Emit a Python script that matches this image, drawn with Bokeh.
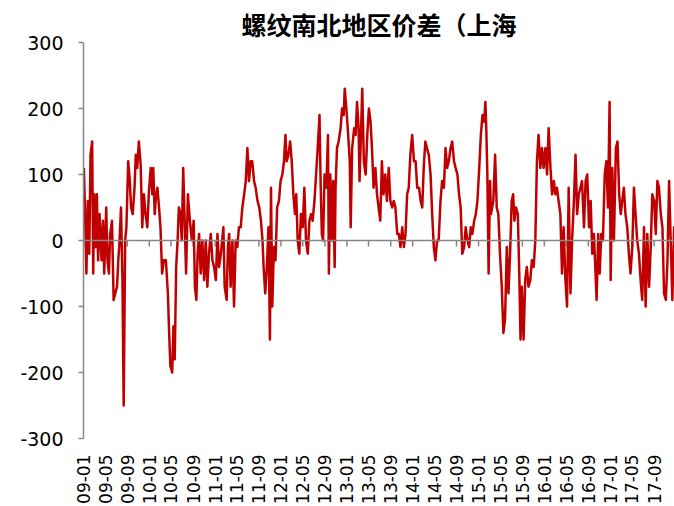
import numpy as np
import pandas as pd
from bokeh.plotting import figure
from bokeh.models import FixedTicker, DatetimeTickFormatter, Span, Range1d
from bokeh.embed import file_html
from bokeh.resources import INLINE

title_text = "螺纹南北地区价差（上海"

dates = [
    "2009-01-03", "2009-01-10", "2009-01-17", "2009-01-25", "2009-02-02", "2009-02-09", "2009-02-18", "2009-02-24",
    "2009-03-01", "2009-03-08", "2009-03-16", "2009-03-23", "2009-03-31", "2009-04-11", "2009-04-19", "2009-04-26",
    "2009-05-07", "2009-05-14", "2009-05-22", "2009-05-29", "2009-06-08", "2009-06-17", "2009-06-26", "2009-07-06",
    "2009-07-13", "2009-07-20", "2009-07-28", "2009-08-05", "2009-08-12", "2009-08-20", "2009-08-27", "2009-09-06",
    "2009-09-15", "2009-09-22", "2009-10-01", "2009-10-11", "2009-10-18", "2009-10-26", "2009-11-04", "2009-11-14",
    "2009-11-23", "2009-12-02", "2009-12-11", "2009-12-21", "2009-12-30", "2010-01-09", "2010-01-18", "2010-01-23",
    "2010-01-31", "2010-02-08", "2010-02-15", "2010-02-24", "2010-03-04", "2010-03-13", "2010-03-22", "2010-04-03",
    "2010-04-14", "2010-04-21", "2010-04-28", "2010-05-08", "2010-05-15", "2010-05-22", "2010-05-30", "2010-06-07",
    "2010-06-14", "2010-06-23", "2010-06-30", "2010-07-08", "2010-07-15", "2010-07-24", "2010-08-03", "2010-08-14",
    "2010-08-25", "2010-09-04", "2010-09-11", "2010-09-19", "2010-09-26", "2010-10-04", "2010-10-13", "2010-10-22",
    "2010-11-01", "2010-11-10", "2010-11-19", "2010-11-28", "2010-12-08", "2010-12-17", "2010-12-26", "2011-01-05",
    "2011-01-14", "2011-01-23", "2011-02-02", "2011-02-16", "2011-02-23", "2011-03-06", "2011-03-13", "2011-03-20",
    "2011-03-28", "2011-04-07", "2011-04-16", "2011-04-25", "2011-05-04", "2011-05-13", "2011-05-23", "2011-06-01",
    "2011-06-11", "2011-06-20", "2011-06-29", "2011-07-08", "2011-07-17", "2011-07-26", "2011-08-05", "2011-08-14",
    "2011-08-24", "2011-09-03", "2011-09-12", "2011-09-21", "2011-09-27", "2011-10-06", "2011-10-15", "2011-10-24",
    "2011-11-01", "2011-11-07", "2011-11-14", "2011-11-23", "2011-12-02", "2011-12-11", "2011-12-21", "2011-12-30",
    "2012-01-09", "2012-01-18", "2012-01-26", "2012-02-02", "2012-02-12", "2012-02-21", "2012-03-01", "2012-03-10",
    "2012-03-19", "2012-03-26", "2012-04-03", "2012-04-12", "2012-04-21", "2012-05-01", "2012-05-10", "2012-05-19",
    "2012-05-29", "2012-06-07", "2012-06-16", "2012-06-25", "2012-07-05", "2012-07-14", "2012-07-23", "2012-08-02",
    "2012-08-08", "2012-08-15", "2012-08-22", "2012-08-30", "2012-09-09", "2012-09-18", "2012-09-23", "2012-10-01",
    "2012-10-10", "2012-10-17", "2012-10-25", "2012-10-30", "2012-11-07", "2012-11-16", "2012-11-27", "2012-12-05",
    "2012-12-14", "2012-12-20", "2012-12-29", "2013-01-08", "2013-01-17", "2013-01-22", "2013-01-30", "2013-02-10",
    "2013-02-19", "2013-02-26", "2013-03-07", "2013-03-12", "2013-03-21", "2013-03-27", "2013-04-05", "2013-04-15",
    "2013-04-24", "2013-05-03", "2013-05-12", "2013-05-20", "2013-05-29", "2013-06-08", "2013-06-17", "2013-06-26",
    "2013-07-05", "2013-07-14", "2013-07-23", "2013-08-02", "2013-08-11", "2013-08-21", "2013-08-30", "2013-09-09",
    "2013-09-18", "2013-09-27", "2013-10-07", "2013-10-16", "2013-10-25", "2013-11-04", "2013-11-13", "2013-11-22",
    "2013-12-01", "2013-12-10", "2013-12-19", "2013-12-29", "2014-01-08", "2014-01-17", "2014-01-26", "2014-02-05",
    "2014-02-14", "2014-02-23", "2014-03-03", "2014-03-12", "2014-03-21", "2014-03-31", "2014-04-10", "2014-04-19",
    "2014-04-28", "2014-05-07", "2014-05-16", "2014-05-25", "2014-06-04", "2014-06-13", "2014-06-23", "2014-07-02",
    "2014-07-11", "2014-07-20", "2014-07-30", "2014-08-08", "2014-08-18", "2014-08-27", "2014-09-06", "2014-09-15",
    "2014-09-24", "2014-10-03", "2014-10-13", "2014-10-22", "2014-11-01", "2014-11-10", "2014-11-19", "2014-11-28",
    "2014-12-08", "2014-12-17", "2014-12-26", "2015-01-05", "2015-01-14", "2015-01-23", "2015-02-02", "2015-02-08",
    "2015-02-13", "2015-02-19", "2015-02-26", "2015-03-06", "2015-03-11", "2015-03-24", "2015-04-03", "2015-04-12",
    "2015-04-21", "2015-04-30", "2015-05-10", "2015-05-19", "2015-05-28", "2015-06-07", "2015-06-16", "2015-06-25",
    "2015-07-04", "2015-07-12", "2015-07-19", "2015-07-28", "2015-08-07", "2015-08-15", "2015-08-22", "2015-08-29",
    "2015-09-08", "2015-09-17", "2015-09-26", "2015-10-05", "2015-10-15", "2015-10-24", "2015-11-03", "2015-11-12",
    "2015-11-21", "2015-11-30", "2015-12-10", "2015-12-19", "2015-12-28", "2016-01-07", "2016-01-16", "2016-01-25",
    "2016-02-04", "2016-02-13", "2016-02-23", "2016-03-02", "2016-03-11", "2016-03-20", "2016-03-30", "2016-04-08",
    "2016-04-17", "2016-04-27", "2016-05-06", "2016-05-15", "2016-05-25", "2016-06-03", "2016-06-13", "2016-06-22",
    "2016-07-01", "2016-07-10", "2016-07-19", "2016-07-28", "2016-08-08", "2016-08-17", "2016-08-26", "2016-09-05",
    "2016-09-14", "2016-09-23", "2016-10-02", "2016-10-11", "2016-10-17", "2016-10-26", "2016-11-03", "2016-11-12",
    "2016-11-21", "2016-12-01", "2016-12-10", "2016-12-19", "2016-12-28", "2017-01-03", "2017-01-12", "2017-01-21",
    "2017-02-01", "2017-02-10", "2017-02-19", "2017-02-28", "2017-03-08", "2017-03-17", "2017-03-26", "2017-04-05",
    "2017-04-14", "2017-04-23", "2017-05-03", "2017-05-12", "2017-05-21", "2017-05-30", "2017-06-09", "2017-06-18",
    "2017-06-27", "2017-07-07", "2017-07-16", "2017-07-25", "2017-08-04", "2017-08-13", "2017-08-22", "2017-09-01",
    "2017-09-10", "2017-09-19", "2017-09-28", "2017-10-08", "2017-10-17", "2017-10-26", "2017-11-05", "2017-11-14",
    "2017-11-23", "2017-12-02", "2017-12-11", "2017-12-21", "2017-12-30",
]

spread = [
    110, 40, -50, 60, -20, 130, 150, -50,
    70, -10, 70, -30, 40, -30, 30, -50,
    50, -30, -50, 10, 30, -90, -80, -70,
    -30, 0, 50, -60, -250, 0, 20, 120,
    90, 50, 40, 80, 130, 110, 150, 115,
    20, 70, 40, 20, 75, 110, 70, 110,
    40, 70, 80, 50, 20, -50, -30, -30,
    -80, -140, -190, -200, -130, -180, -40, 0,
    50, 40, 0, 110, 40, -50, 70, 30,
    0, 30, -70, -90, -20, 10, -50, 0,
    -60, 0, -70, -20, 10, -30, -40, -60,
    10, -40, -20, 20, -70, -90, -10, 10,
    -70, 0, -100, 0, -10, 20, 20, 50,
    70, 90, 140, 90, 120, 120, 90, 80,
    60, 50, 30, 0, -40, -80, -40, 20,
    -150, 80, -100, -10, -30, 50, 60, 90,
    100, 120, 160, 120, 130, 150, 120, 70,
    40, 70, 0, -20, 40, 20, 80, 0,
    -20, 30, 40, 30, 60, 100, 140, 190,
    90, 10, 0, 100, 80, 160, -50, 100,
    0, 90, -40, 80, 140, 150, 170, 200,
    190, 230, 200, 160, 120, 20, 140, 170,
    160, 210, 170, 90, 170, 230, 120, 100,
    160, 200, 180, 140, 80, 110, 70, 50,
    30, 120, 70, 100, 60, 110, 60, 50,
    60, 50, 10, 10, -10, 20, -10, 10,
    70, 80, 130, 160, 120, 120, 80, 80,
    60, 50, 110, 150, 140, 130, 100, 40,
    -10, -30, 0, 0, 60, 90, 80, 140,
    110, 120, 140, 150, 120, 110, 100, 70,
    50, -20, -10, 20, 0, -10, 20, 10,
    30, 40, 60, 110, 160, 190, 180, 210,
    170, 100, -50, 90, 40, 60, 130, 50,
    40, -20, -70, -140, -120, -10, -80, -20,
    60, 70, 30, 50, 40, -50, -150, -70,
    -150, -60, -40, -70, -60, -30, -40, 0,
    120, 160, 110, 140, 110, 140, 100, 170,
    110, 70, 90, 70, 80, 60, 40, -50,
    20, -60, -100, 80, -80, 0, 60, 130,
    40, 70, 80, 90, 20, 90, 100, 20,
    60, -20, 10, -50, -90, 10, -50, 10,
    0, 100, 120, 50, 210, -60, 110, 0,
    140, 150, 70, 40, 60, 80, 40, 20,
    -20, -50, -10, 80, 40, 0, -20, -60,
    -90, 20, -100, 10, -70, -10, 70, 60,
    10, 90, 80, 40, 20, -80, -90, -30,
    90, 0, -90, 20, 0,
]

y_ticks = [-300, -200, -100, 0, 100, 200, 300]
tick_labels = [f"{yy:02d}-{mm:02d}" for yy in range(9, 18) for mm in (1, 5, 9)]

x = pd.to_datetime(dates)
tick_dt = pd.to_datetime(["20" + t + "-01" for t in tick_labels])
tick_ms = [float(t.value // 10**6) for t in tick_dt]

p = figure(
    width=674, height=506,
    x_axis_type="datetime",
    x_range=Range1d(pd.Timestamp("2009-01-01"), pd.Timestamp("2017-12-23")),
    y_range=Range1d(-300, 300),
    output_backend="svg", toolbar_location=None,
    min_border_left=83, min_border_right=0, min_border_top=42, min_border_bottom=67,
)
p.outline_line_color = None
p.grid.visible = False
p.background_fill_color = "white"
p.border_fill_color = "white"

p.title.text = title_text
p.title.text_font = "Noto Sans CJK SC"
p.title.text_font_size = "25px"
p.title.text_font_style = "bold"
p.title.text_color = "black"
p.title.align = "center"
p.title.standoff = 2

# y axis
yax = p.yaxis[0]
yax.ticker = FixedTicker(ticks=y_ticks)
yax.major_label_overrides = {t: str(t) for t in y_ticks}
yax.axis_line_color = "#868686"
yax.axis_line_width = 1.5
yax.major_tick_line_color = "#868686"
yax.major_tick_line_width = 1.5
yax.major_tick_out = 5
yax.major_tick_in = 0
yax.minor_tick_line_color = None
yax.major_label_text_font = "DejaVu Sans"
yax.major_label_text_font_size = "19px"
yax.major_label_text_color = "black"
yax.major_label_standoff = 15

# x axis (labels only, at bottom)
xax = p.xaxis[0]
xax.ticker = FixedTicker(ticks=tick_ms)
fmt = "%y-%m"
xax.formatter = DatetimeTickFormatter(
    years=fmt, months=fmt, days=fmt, hours=fmt, minutes=fmt, seconds=fmt,
    milliseconds=fmt, microseconds=fmt, hourmin=fmt, minsec=fmt,
)
xax.axis_line_color = None
xax.major_tick_line_color = None
xax.minor_tick_line_color = None
xax.major_label_orientation = np.pi / 2
xax.major_label_text_font = "DejaVu Sans"
xax.major_label_text_font_size = "17px"
xax.major_label_text_color = "black"
xax.major_label_standoff = 10

# zero line with tick marks (category axis crossing at 0)
p.add_layout(Span(location=0, dimension="width", line_color="#868686", line_width=1.5))
p.segment(x0=tick_dt, y0=0, x1=tick_dt, y1=-9, line_color="#868686", line_width=1.5)

p.line(x, spread, line_color="#C00000", line_width=2.5, line_join="round")

open("out.html", "w").write(file_html(p, INLINE))
